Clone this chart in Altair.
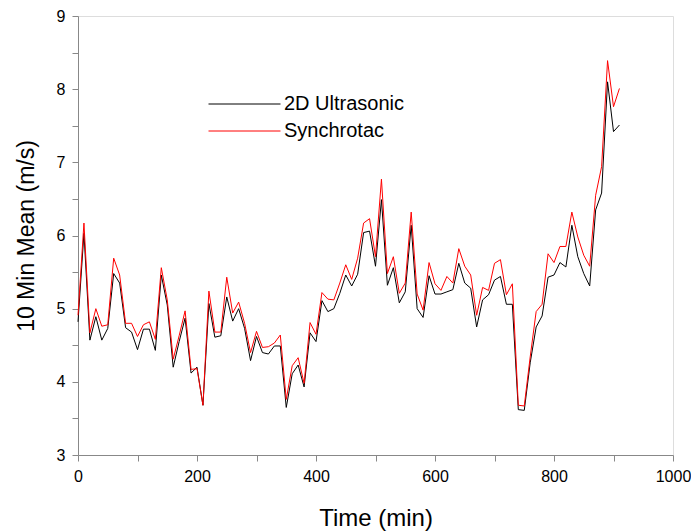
import altair as alt
import pandas as pd

time_min = [0, 10, 20, 30, 40, 50, 60, 70, 80, 90,
            100, 110, 120, 130, 140, 150, 160, 170, 180, 190,
            200, 210, 220, 230, 240, 250, 260, 270, 280, 290,
            300, 310, 320, 330, 340, 350, 360, 370, 380, 390,
            400, 410, 420, 430, 440, 450, 460, 470, 480, 490,
            500, 510, 520, 530, 540, 550, 560, 570, 580, 590,
            600, 610, 620, 630, 640, 650, 660, 670, 680, 690,
            700, 710, 720, 730, 740, 750, 760, 770, 780, 790,
            800, 810, 820, 830, 840, 850, 860, 870, 880, 890,
            900, 910]

ultrasonic_2d = [4.82, 6.03, 4.57, 4.89, 4.57, 4.73, 5.48, 5.35, 4.74, 4.68,
                 4.44, 4.72, 4.72, 4.43, 5.46, 5.05, 4.20, 4.55, 4.87, 4.12,
                 4.20, 3.68, 5.07, 4.61, 4.63, 5.16, 4.83, 5.00, 4.73, 4.29,
                 4.62, 4.40, 4.38, 4.49, 4.49, 3.65, 4.11, 4.23, 3.93, 4.67,
                 4.55, 5.11, 4.96, 5.00, 5.21, 5.46, 5.31, 5.47, 6.04, 6.06,
                 5.58, 6.49, 5.32, 5.56, 5.08, 5.23, 6.14, 5.00, 4.88, 5.45,
                 5.20, 5.20, 5.23, 5.26, 5.62, 5.35, 5.28, 4.75, 5.12, 5.19,
                 5.39, 5.44, 5.06, 5.06, 3.62, 3.61, 4.26, 4.75, 4.90, 5.43,
                 5.46, 5.63, 5.57, 6.14, 5.71, 5.48, 5.31, 6.35, 6.58, 8.10,
                 7.42, 7.51]

synchrotac = [4.91, 6.17, 4.67, 5.00, 4.76, 4.78, 5.69, 5.46, 4.80, 4.80,
              4.62, 4.78, 4.82, 4.58, 5.56, 5.12, 4.31, 4.63, 4.97, 4.17,
              4.18, 3.68, 5.24, 4.68, 4.68, 5.43, 4.94, 5.09, 4.80, 4.40,
              4.69, 4.47, 4.48, 4.53, 4.64, 3.76, 4.22, 4.33, 3.98, 4.81,
              4.65, 5.22, 5.13, 5.12, 5.35, 5.60, 5.40, 5.69, 6.17, 6.23,
              5.71, 6.77, 5.48, 5.71, 5.21, 5.35, 6.32, 5.20, 4.98, 5.63,
              5.34, 5.25, 5.44, 5.35, 5.82, 5.58, 5.46, 4.91, 5.29, 5.25,
              5.62, 5.67, 5.19, 5.34, 3.68, 3.67, 4.34, 4.96, 5.06, 5.75,
              5.63, 5.85, 5.85, 6.32, 5.98, 5.73, 5.58, 6.55, 6.94, 8.39,
              7.76, 8.01]

series_names = ["2D Ultrasonic", "Synchrotac"]
series_colors = ["#000000", "#ff0000"]

x_ticks = [0, 100, 200, 300, 400, 500, 600, 700, 800, 900, 1000]
y_ticks = [3, 3.5, 4, 4.5, 5, 5.5, 6, 6.5, 7, 7.5, 8, 8.5, 9]

rows = []
for t, a, b in zip(time_min, ultrasonic_2d, synchrotac):
    rows.append({"time": t, "value": a, "series": series_names[0]})
    rows.append({"time": t, "value": b, "series": series_names[1]})
df = pd.DataFrame(rows)

FONT = "Liberation Sans"

chart = alt.Chart(df).mark_line(strokeWidth=1).encode(
    x=alt.X("time:Q",
            scale=alt.Scale(domain=[0, 1000], nice=False),
            axis=alt.Axis(title="Time (min)", values=x_ticks,
                          labelExpr="datum.value % 200 == 0 ? format(datum.value, 'd') : ''",
                          grid=False, tickSize=6, labelPadding=7,
                          titlePadding=22, labelFontSize=16, titleFontSize=24,
                          titleFontWeight="normal", labelFlush=False)),
    y=alt.Y("value:Q",
            scale=alt.Scale(domain=[3, 9], nice=False, zero=False),
            axis=alt.Axis(title="10 Min Mean (m/s)", values=y_ticks,
                          labelExpr="datum.value % 1 == 0 ? format(datum.value, 'd') : ''",
                          grid=False, tickSize=6, labelPadding=7,
                          titlePadding=18, labelFontSize=16, titleFontSize=23,
                          titleFontWeight="normal", labelFlush=False)),
    color=alt.Color("series:N",
                    scale=alt.Scale(domain=series_names, range=series_colors),
                    legend=alt.Legend(title=None, orient="none",
                                      legendX=130, legendY=78,
                                      symbolType="stroke", symbolSize=5184,
                                      symbolStrokeWidth=1, clipHeight=20,
                                      rowPadding=7, labelFontSize=20,
                                      labelOffset=3, labelFont=FONT)),
).properties(
    width=595, height=439,
    padding={"left": 78, "top": 16, "right": 18, "bottom": 77},
    autosize=alt.AutoSizeParams(type="none"),
).configure_view(
    stroke=None
).configure_axis(
    domainColor="#000000", tickColor="#000000", labelColor="#000000",
    titleColor="#000000", labelFont=FONT, titleFont=FONT,
    domainWidth=1, tickWidth=1,
).configure(background="#ffffff")

chart.save("out.html", embed_options={"renderer": "svg", "actions": False})
